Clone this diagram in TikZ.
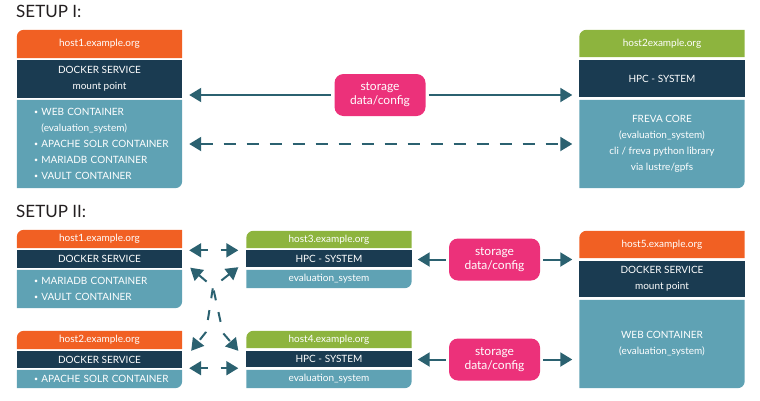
\documentclass[tikz,border=0pt]{standalone}
\usepackage{fontspec}
\setmainfont{Lato}
\usetikzlibrary{arrows.meta,backgrounds,calc}

\definecolor{hostorange}{HTML}{F16023}
\definecolor{hostgreen}{HTML}{8DB43E}
\definecolor{servicenavy}{HTML}{1A3B51}
\definecolor{containerteal}{HTML}{5FA2B4}
\definecolor{storagepink}{HTML}{EC317A}
\definecolor{linkteal}{HTML}{2B6170}
\definecolor{titlegray}{HTML}{231F20}

\tikzset{
	band/.style={minimum width=165pt, inner sep=0pt, text=white, align=center, font=\fontsize{10}{16}\selectfont},
	list/.style={band, text width=145pt, align=left},
	storage/.style={fill=storagepink, rounded corners=9pt, minimum width=91pt, minimum height=42pt, inner sep=0pt, text=white, align=center, font=\fontsize{12}{14}\selectfont},
	setup/.style={anchor=base west, inner sep=0pt, text=titlegray, font=\fontsize{17}{20}\selectfont},
	link/.style={draw=linkteal, line width=2pt},
	dashlink/.style={link, dash pattern=on 12pt off 11pt},
}
% band fills: top left / bottom right corner rounded, or square
\newcommand{\filltl}[2]{\fill[#1] (#2.south west) -- ([yshift=-7pt]#2.north west) arc[start angle=180, end angle=90, radius=7pt] -- (#2.north east) -- (#2.south east) -- cycle;}
\newcommand{\fillbr}[2]{\fill[#1] (#2.south west) -- (#2.north west) -- (#2.north east) -- ([yshift=7pt]#2.south east) arc[start angle=0, end angle=-90, radius=7pt] -- cycle;}
\newcommand{\fillsq}[2]{\fill[#1] (#2.south west) rectangle (#2.north east);}
\newcommand{\bulletmark}{\hspace*{7pt}\raisebox{0.6pt}{\fontsize{7}{7}\selectfont•}\ }
\newcommand{\bulletskip}{\hspace*{7pt}\phantom{\fontsize{7}{7}\selectfont•}\ }

\begin{document}
\begin{tikzpicture}[x=1pt, y=-1pt, >={Triangle[length=12pt,width=14pt]}]
	\useasboundingbox (0,0) rectangle (760,400);
	% setup I
	\node[setup] (setupone) at (16,17) {SETUP I:};
	\node[band, minimum height=28pt] (h1head) at (99.5,44) {host1.example.org};
	\node[band, minimum height=38pt] (h1dock) at (99.5,79) {DOCKER SERVICE\\mount point};
	\node[list, minimum height=88pt] (h1cont) at (99.5,144) {\bulletmark WEB CONTAINER\\\bulletskip(evaluation\_system)\\\bulletmark APACHE SOLR CONTAINER\\\bulletmark MARIADB CONTAINER\\\bulletmark VAULT CONTAINER};
	\node[band, minimum height=27pt] (h2head) at (662,43.5) {host2example.org};
	\node[band, minimum height=37pt] (h2dock) at (662,78.5) {HPC - SYSTEM};
	\node[band, minimum height=88pt] (h2cont) at (662,144) {FREVA CORE\\(evaluation\_system)\\cli / freva python library\\via lustre/gpfs};
	\node[storage] (st1) at (380,95) {storage\\data/config};
	% setup II
	\node[setup] (setuptwo) at (16,217) {SETUP II:};
	\node[band, minimum height=18pt] (h1bhead) at (99.5,239) {host1.example.org};
	\node[band, minimum height=17pt] (h1bdock) at (99.5,259) {DOCKER SERVICE};
	\node[list, minimum height=38pt] (h1bcont) at (99.5,289) {\bulletmark MARIADB CONTAINER\\\bulletmark VAULT CONTAINER};
	\node[band, minimum height=18pt] (h2bhead) at (99.5,340) {host2.example.org};
	\node[band, minimum height=17pt] (h2bdock) at (99.5,359.5) {DOCKER SERVICE};
	\node[list, minimum height=18pt] (h2bcont) at (99.5,379) {\bulletmark APACHE SOLR CONTAINER};
	\node[band, minimum height=17pt] (h3head) at (329,239.5) {host3.example.org};
	\node[band, minimum height=17pt] (h3dock) at (329,258.5) {HPC - SYSTEM};
	\node[band, minimum height=18pt] (h3cont) at (329,279) {evaluation\_system};
	\node[band, minimum height=17pt] (h4head) at (329,339.5) {host4.example.org};
	\node[band, minimum height=16pt] (h4dock) at (329,359) {HPC - SYSTEM};
	\node[band, minimum height=18pt] (h4cont) at (329,379) {evaluation\_system};
	\node[band, minimum height=27pt] (h5head) at (662,244.5) {host5.example.org};
	\node[band, minimum height=36pt] (h5dock) at (662,279) {DOCKER SERVICE\\mount point};
	\node[band, minimum height=88pt] (h5cont) at (662,344) {WEB CONTAINER\\(evaluation\_system)};
	\node[storage] (st2) at (494.5,259.5) {storage\\data/config};
	\node[storage] (st3) at (494.5,359.5) {storage\\data/config};
	\begin{scope}[on background layer]
		\filltl{hostorange}{h1head} \fillsq{servicenavy}{h1dock} \fillbr{containerteal}{h1cont}
		\filltl{hostgreen}{h2head} \fillsq{servicenavy}{h2dock} \fillbr{containerteal}{h2cont}
		\filltl{hostorange}{h1bhead} \fillsq{servicenavy}{h1bdock} \fillbr{containerteal}{h1bcont}
		\filltl{hostorange}{h2bhead} \fillsq{servicenavy}{h2bdock} \fillbr{containerteal}{h2bcont}
		\filltl{hostgreen}{h3head} \fillsq{servicenavy}{h3dock} \fillbr{containerteal}{h3cont}
		\filltl{hostgreen}{h4head} \fillsq{servicenavy}{h4dock} \fillbr{containerteal}{h4cont}
		\filltl{hostorange}{h5head} \fillsq{servicenavy}{h5dock} \fillbr{containerteal}{h5cont}
	\end{scope}
	% links setup I
	\draw[link, <-, shorten <=7pt, shorten >=3pt] (h1dock.east |- st1.west) -- (st1.west);
	\draw[link, ->, shorten <=3pt, shorten >=7pt] (st1.east) -- (st1.east -| h2dock.west);
	\draw[dashlink, <->, shorten <=7pt, shorten >=7pt] (h1cont.east) -- (h2cont.west);
	% links setup II
	\draw[link, <-, shorten <=6pt, shorten >=3pt] (h3dock.east |- st2.west) -- (st2.west);
	\draw[link, ->, shorten <=3pt, shorten >=7pt] (st2.east) -- (st2.east -| h5dock.west);
	\draw[link, <-, shorten <=6pt, shorten >=3pt] (h4dock.east |- st3.west) -- (st3.west);
	\draw[link, ->, shorten <=3pt, shorten >=7pt] (st3.east) -- (st3.east -| h5cont.west);
	\draw[link, <->, dash pattern=on 7pt off 13pt, shorten <=7pt, shorten >=8pt] (h1bdock.north east) -- (h1bdock.north east -| h3dock.west);
	\draw[link, <->, dash pattern=on 7pt off 13pt, shorten <=7pt, shorten >=8pt] (h2bdock.south east) -- (h2bdock.south east -| h4dock.west);
	\coordinate (cross) at (213,287);
	\coordinate (bendl) at (206,332);
	\coordinate (bendr) at (223,333);
	\draw[link, <->, dash pattern=on 10pt off 12pt] ($(h1bdock.south east)+(8,0)$) -- (cross) -- (bendr) -- ($(h4dock.north west)+(-8,0)$);
	\draw[link, <->, dash pattern=on 10pt off 12pt] ($(h3dock.south west)+(-8,0)$) -- (cross) -- (bendl) -- ($(h2bdock.north east)+(9,0)$);
\end{tikzpicture}
\end{document}
